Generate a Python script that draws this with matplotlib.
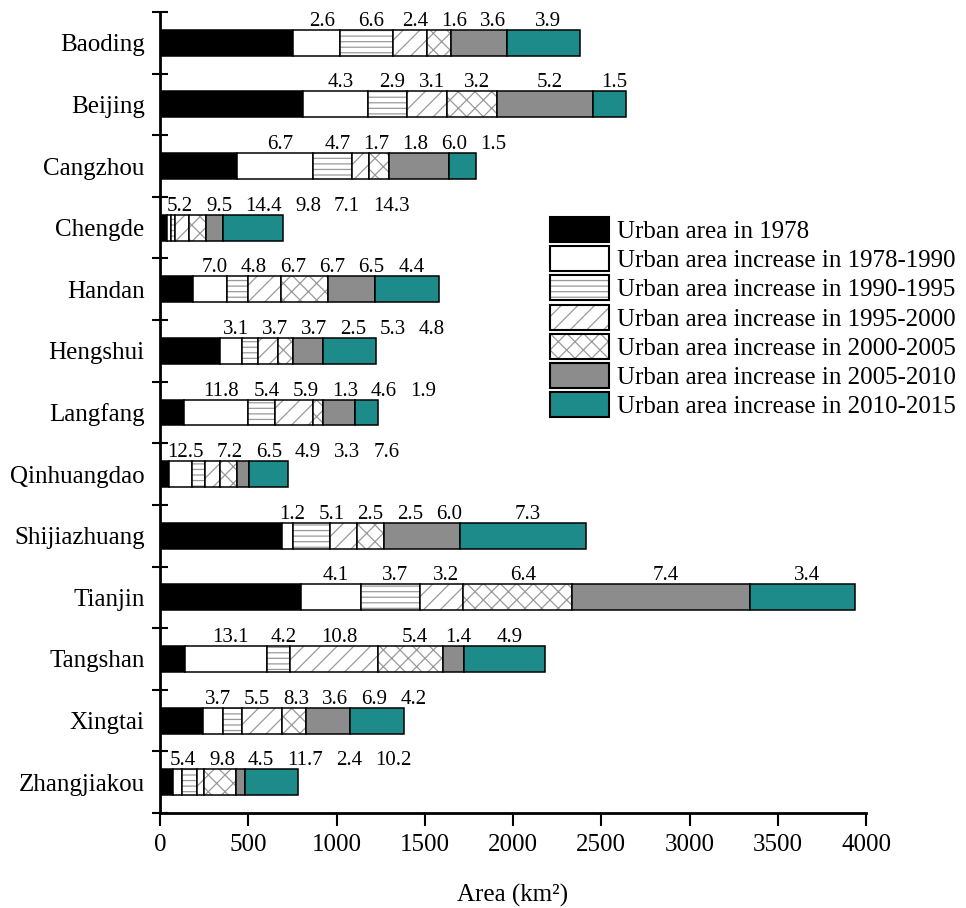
import numpy as np
import matplotlib
matplotlib.use('Agg')
import matplotlib.pyplot as plt
from matplotlib.patches import Patch
from matplotlib.legend_handler import HandlerTuple

plt.rcParams['font.family'] = ['Liberation Serif', 'DejaVu Serif']
plt.rcParams['hatch.linewidth'] = 0.9

cities = ['Baoding', 'Beijing', 'Cangzhou', 'Chengde', 'Handan', 'Hengshui', 'Langfang',
          'Qinhuangdao', 'Shijiazhuang', 'Tianjin', 'Tangshan', 'Xingtai', 'Zhangjiakou']

# urban area (km2) by period
area_1978 = [755, 812, 435, 38, 185, 340, 138, 51, 690, 800, 142, 243, 76]
inc_1990 = [265, 365, 430, 23, 193, 122, 362, 129, 64, 339, 462, 113, 51]
inc_1995 = [298, 221, 223, 25, 119, 95, 152, 75, 211, 332, 134, 109, 81]
inc_2000 = [197, 230, 98, 80, 189, 110, 213, 85, 153, 246, 495, 228, 41]
inc_2005 = [132, 280, 109, 95, 268, 88, 60, 98, 149, 620, 369, 133, 182]
inc_2010 = [318, 543, 344, 98, 266, 170, 179, 68, 431, 1003, 120, 252, 52]
inc_2015 = [414, 187, 150, 336, 361, 299, 133, 221, 714, 599, 460, 302, 298]

# numbers written above the bars
rate_1990 = [2.6, 4.3, 6.7, 5.2, 7.0, 3.1, 11.8, 12.5, 1.2, 4.1, 13.1, 3.7, 5.4]
rate_1995 = [6.6, 2.9, 4.7, 9.5, 4.8, 3.7, 5.4, 7.2, 5.1, 3.7, 4.2, 5.5, 9.8]
rate_2000 = [2.4, 3.1, 1.7, 14.4, 6.7, 3.7, 5.9, 6.5, 2.5, 3.2, 10.8, 8.3, 4.5]
rate_2005 = [1.6, 3.2, 1.8, 9.8, 6.7, 2.5, 1.3, 4.9, 2.5, 6.4, 5.4, 3.6, 11.7]
rate_2010 = [3.6, 5.2, 6.0, 7.1, 6.5, 5.3, 4.6, 3.3, 6.0, 7.4, 1.4, 6.9, 2.4]
rate_2015 = [3.9, 1.5, 1.5, 14.3, 4.4, 4.8, 1.9, 7.6, 7.3, 3.4, 4.9, 4.2, 10.2]

labels = ['Urban area in 1978',
          'Urban area increase in 1978-1990',
          'Urban area increase in 1990-1995',
          'Urban area increase in 1995-2000',
          'Urban area increase in 2000-2005',
          'Urban area increase in 2005-2010',
          'Urban area increase in 2010-2015']

series = [area_1978, inc_1990, inc_1995, inc_2000, inc_2005, inc_2010, inc_2015]
rates = [rate_1990, rate_1995, rate_2000, rate_2005, rate_2010, rate_2015]
faces = ['black', 'white', 'white', 'white', 'white', '#8c8c8c', '#1e8b8b']
hatches = [None, None, '---', '//', 'xx', None, None]
hatch_gray = '#9a9a9a'
bar_h = 0.42

fig = plt.figure(figsize=(9.66, 9.08), dpi=100)
ax = fig.add_axes([160/966, 1 - 813/908, 706/966, 801/908])

y = np.arange(len(cities))
left = np.zeros(len(cities))
for vals, fc, h in zip(series, faces, hatches):
    ax.barh(y, vals, left=left, height=bar_h, color=fc, hatch=h, edgecolor=hatch_gray, linewidth=0)
    ax.barh(y, vals, left=left, height=bar_h, fill=False, edgecolor='black', linewidth=1.1)
    left += np.array(vals)

ax.set_xlim(0, 4000)
ax.set_ylim(12.5, -0.5)
ax.spines['top'].set_visible(False)
ax.spines['right'].set_visible(False)
ax.spines['left'].set_linewidth(2)
ax.spines['bottom'].set_linewidth(2)

ax.set_xticks(np.arange(0, 4001, 500))
ax.set_yticks(np.arange(-0.5, 13, 1))
ax.set_yticklabels([])
ax.set_yticks(y, minor=True)
ax.set_yticklabels(cities, minor=True)
ax.tick_params(axis='y', which='major', direction='inout', length=11, width=1.5)
ax.tick_params(axis='y', which='minor', length=0, pad=11, labelsize=18)
ax.tick_params(axis='x', direction='out', length=9, width=1.5, labelsize=18, pad=6)
ax.set_xlabel('Area (km²)', fontsize=18, labelpad=20)

# numbers above the bars: centred on segments, pushed right when they collide
renderer = fig.canvas.get_renderer()
inv = ax.transData.inverted()
x0px = ax.transData.transform((0, 0))[0]
gap = 13
for i in range(len(cities)):
    cum = np.cumsum([0] + [s[i] for s in series])
    prev_right = x0px + 7 - gap
    for k, r in enumerate(rates):
        cx = (cum[k + 1] + cum[k + 2]) / 2
        cpx = ax.transData.transform((cx, i))[0]
        t = ax.text(cx, i - bar_h / 2 - 0.065, f'{r[i]:.1f}', ha='center', va='baseline', fontsize=15)
        w = t.get_window_extent(renderer).width
        xpx = max(cpx + 5, prev_right + gap + w / 2)
        prev_right = xpx + w / 2
        t.set_x(inv.transform((xpx, 0))[0])

handles = [(Patch(facecolor=fc, hatch=h, edgecolor=hatch_gray, linewidth=0),
            Patch(facecolor='none', edgecolor='black', linewidth=1.5))
           for fc, h in zip(faces, hatches)]
ax.legend(handles, labels, handler_map={tuple: HandlerTuple(ndivide=1)},
          loc='upper left', bbox_to_anchor=(550/966, 1 - 217/908), bbox_transform=fig.transFigure,
          frameon=False, fontsize=18, handlelength=2.36, handleheight=1.16,
          handletextpad=0.32, labelspacing=0.13, borderpad=0, borderaxespad=0)

fig.savefig('out.png', dpi=100)
